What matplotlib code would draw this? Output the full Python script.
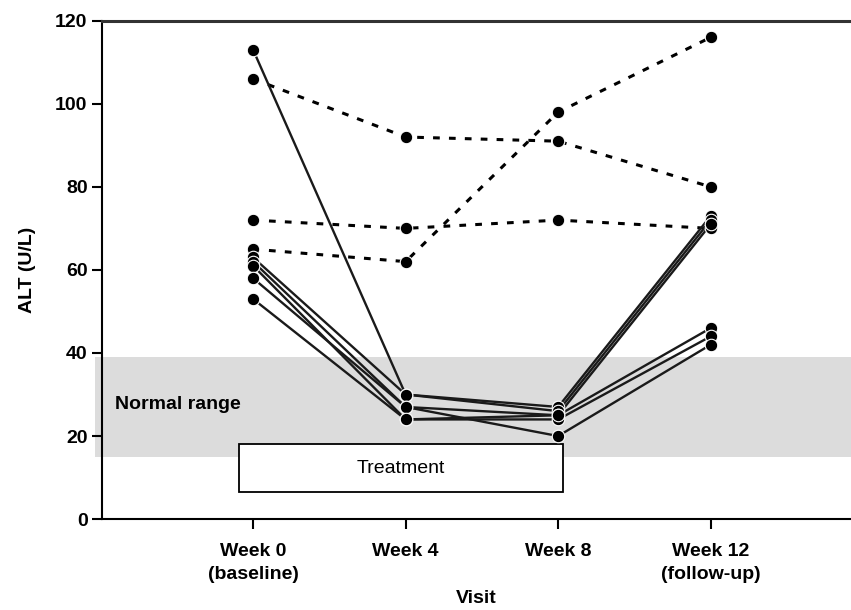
import matplotlib.pyplot as plt
from matplotlib.patches import Rectangle

plt.rcParams['font.family'] = ['Liberation Sans', 'DejaVu Sans']

visits = ['Week 0\n(baseline)', 'Week 4', 'Week 8', 'Week 12\n(follow-up)']
x = [0, 1, 2, 3]

# patients whose ALT fell under treatment (solid lines)
responders = [
    [113, 30, 27, 73],
    [63, 30, 26, 72],
    [62, 27, 25, 46],
    [61, 24, 24, 44],
    [58, 27, 20, 42],
    [53, 24, 25, 71],
]
# patients with persistently raised ALT (dashed lines)
non_responders = [
    [106, 92, 91, 80],
    [72, 70, 72, 70],
    [65, 62, 98, 116],
]

normal_low, normal_high = 15, 39
treat_start, treat_end = -0.09, 2.03
treat_low, treat_high = 6.5, 18

fs = 14

fig = plt.figure(figsize=(8.51, 6.10), dpi=100)
ax = fig.add_axes([0.12, 0.149, 0.88, 0.817])

# normal range band
ax.fill_between([-1.035, 3.93], normal_low, normal_high, color='#dcdcdc',
                edgecolor='none', zorder=0, clip_on=False)
ax.text(-0.905, (normal_low + normal_high) / 2 + 0.5, 'Normal range',
        fontsize=fs, fontweight='bold', va='center', ha='left', zorder=1)

# treatment period box
ax.add_patch(Rectangle((treat_start, treat_low), treat_end - treat_start,
                       treat_high - treat_low, facecolor='white',
                       edgecolor='black', lw=1.3, zorder=2))
ax.text((treat_start + treat_end) / 2, (treat_low + treat_high) / 2, 'Treatment',
        fontsize=fs, ha='center', va='center', zorder=3)

for y in non_responders:
    ax.plot(x, y, color='black', lw=2.2, ls=(0, (2.2, 3.0)), zorder=4)
for y in responders:
    ax.plot(x, y, color='#1a1a1a', lw=1.7, zorder=4)

for y in non_responders + responders:
    ax.plot(x, y, ls='none', marker='o', ms=9, mfc='black', mec='white',
            mew=0.8, zorder=5)

ax.set_xlim(-0.99, 3.92)
ax.set_ylim(0, 120)
ax.set_yticks(range(0, 121, 20))
ax.set_xticks(x)
ax.set_xticklabels(visits, linespacing=1.45)
for lab in ax.get_xticklabels() + ax.get_yticklabels():
    lab.set_fontweight('bold')
    lab.set_fontsize(fs)
ax.tick_params(axis='both', direction='out', length=7, width=1.5)
ax.tick_params(axis='x', pad=10)

ax.spines['right'].set_visible(False)
for side in ['left', 'bottom']:
    ax.spines[side].set_linewidth(1.5)
ax.spines['top'].set_linewidth(2.2)
ax.spines['top'].set_color('#333333')

ax.set_ylabel('ALT (U/L)', fontsize=fs, fontweight='bold', labelpad=14)
ax.set_xlabel('Visit', fontsize=fs, fontweight='bold', labelpad=5)

fig.savefig('out.png', dpi=100)
